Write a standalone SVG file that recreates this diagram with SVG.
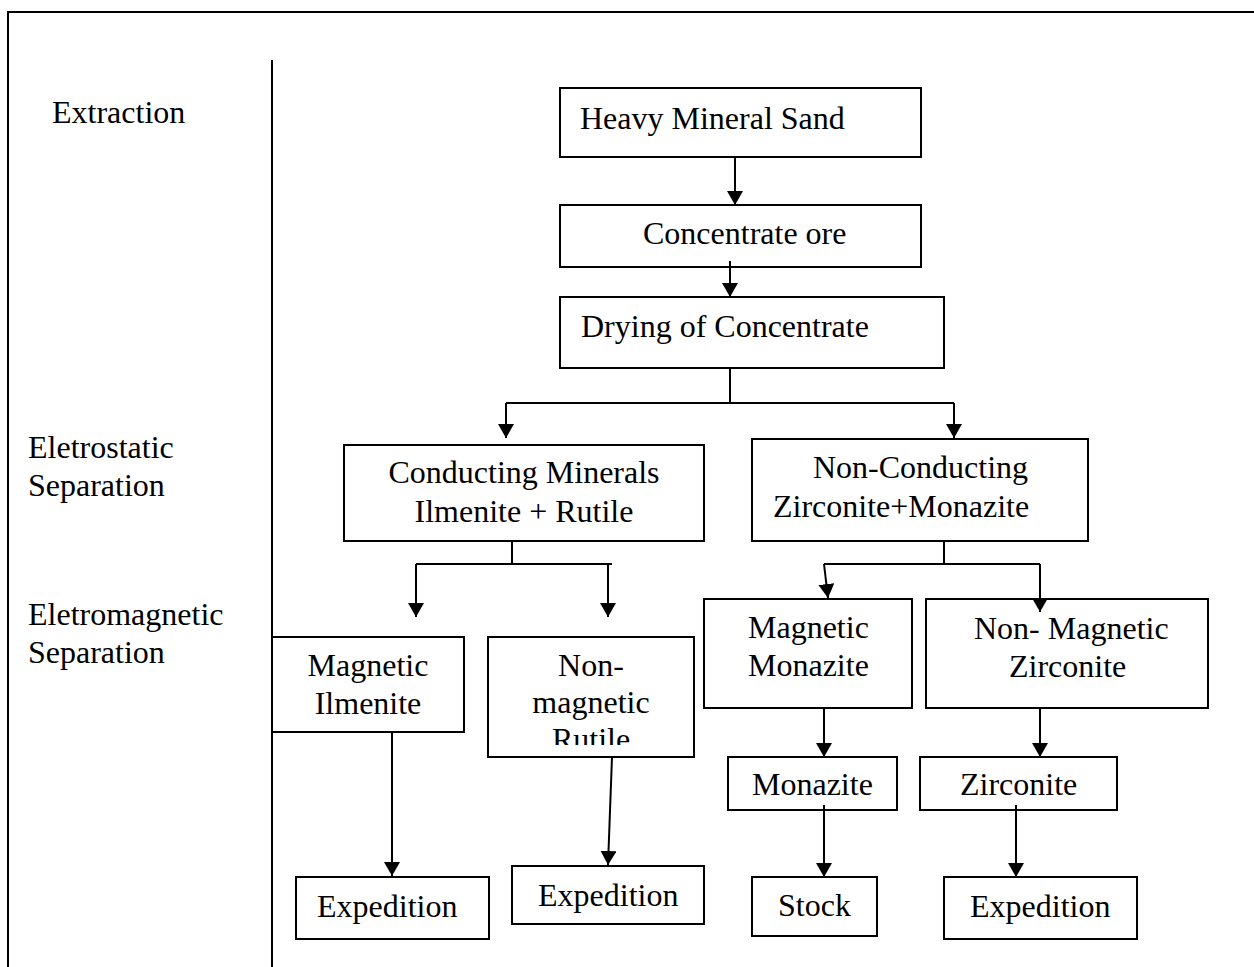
<svg xmlns="http://www.w3.org/2000/svg" width="1254" height="967" viewBox="0 0 1254 967">
<style>
.box{fill:#fff;stroke:#000;stroke-width:2}
.t{font-family:"Liberation Serif","Times New Roman",serif;font-size:32px;fill:#000}
.c{text-anchor:middle}
.ln{fill:none;stroke:#000;stroke-width:2}
</style>
<defs>
<marker id="ah" markerUnits="userSpaceOnUse" markerWidth="15" markerHeight="17" refX="14" refY="8" orient="auto">
<path d="M0,0 L14,8 L0,16 z" fill="#000"/>
</marker>
<clipPath id="clipRut"><rect x="488" y="637" width="206" height="108"/></clipPath>
</defs>
<rect width="1254" height="967" fill="#fff"/>
<g id="frame">
<path class="ln" d="M8,967 V12 H1254"/>
<path class="ln" d="M272,60 V967"/>
</g>
<g id="stages">
<text class="t" x="52" y="123">Extraction</text>
<text class="t" x="28" y="458">Eletrostatic</text>
<text class="t" x="28" y="496">Separation</text>
<text class="t" x="28" y="625">Eletromagnetic</text>
<text class="t" x="28" y="663">Separation</text>
</g>
<g id="n-hms"><rect class="box" x="560" y="88" width="361" height="69"/><text class="t" x="580" y="129">Heavy Mineral Sand</text></g>
<g id="n-co"><rect class="box" x="560" y="205" width="361" height="62"/><text class="t" x="643" y="244">Concentrate ore</text></g>
<g id="n-dry"><rect class="box" x="560" y="297" width="384" height="71"/><text class="t" x="581" y="337">Drying of Concentrate</text></g>
<g id="n-cond"><rect class="box" x="344" y="445" width="360" height="96"/><text class="t c" x="524" y="483">Conducting Minerals</text><text class="t c" x="524" y="522">Ilmenite + Rutile</text></g>
<g id="n-noncond"><rect class="box" x="752" y="439" width="336" height="102"/><text class="t" x="813" y="478">Non-Conducting</text><text class="t" x="773" y="517">Zirconite+Monazite</text></g>
<g id="n-magilm"><rect class="box" x="272" y="637" width="192" height="95"/><text class="t c" x="368" y="676">Magnetic</text><text class="t c" x="368" y="714">Ilmenite</text></g>
<g id="n-nonmagrut"><rect class="box" x="488" y="637" width="206" height="120"/><g clip-path="url(#clipRut)"><text class="t c" x="591" y="676">Non-</text><text class="t c" x="591" y="713">magnetic</text><text class="t c" x="591" y="750">Rutile</text></g></g>
<g id="n-magmon"><rect class="box" x="704" y="599" width="208" height="109"/><text class="t" x="748" y="638">Magnetic</text><text class="t" x="748" y="676">Monazite</text></g>
<g id="n-nonmagzir"><rect class="box" x="926" y="599" width="282" height="109"/><text class="t" x="974" y="639">Non- Magnetic</text><text class="t" x="1009" y="677">Zirconite</text></g>
<g id="n-monazite"><rect class="box" x="728" y="757" width="169" height="53"/><text class="t" x="752" y="795">Monazite</text></g>
<g id="n-zirconite"><rect class="box" x="920" y="757" width="197" height="53"/><text class="t" x="960" y="795">Zirconite</text></g>
<g id="n-exp1"><rect class="box" x="296" y="877" width="193" height="62"/><text class="t" x="317" y="917">Expedition</text></g>
<g id="n-exp2"><rect class="box" x="512" y="866" width="192" height="58"/><text class="t" x="538" y="906">Expedition</text></g>
<g id="n-stock"><rect class="box" x="752" y="877" width="125" height="59"/><text class="t" x="778" y="916">Stock</text></g>
<g id="n-exp4"><rect class="box" x="944" y="877" width="193" height="62"/><text class="t" x="970" y="917">Expedition</text></g>
<g id="connectors">
<path class="ln" d="M735,157 V205" marker-end="url(#ah)"/>
<path class="ln" d="M730,261 V297" marker-end="url(#ah)"/>
<path class="ln" d="M730,368 V403 M506,403 H954"/>
<path class="ln" d="M506,403 V438" marker-end="url(#ah)"/>
<path class="ln" d="M954,403 V438" marker-end="url(#ah)"/>
<path class="ln" d="M512,541 V564 M416,564 H612"/>
<path class="ln" d="M416,564 V617" marker-end="url(#ah)"/>
<path class="ln" d="M608,564 V617" marker-end="url(#ah)"/>
<path class="ln" d="M944,541 V564 M824,564 H1040"/>
<path class="ln" d="M824,564 L828,598" marker-end="url(#ah)"/>
<path class="ln" d="M1040,564 V612" marker-end="url(#ah)"/>
<path class="ln" d="M392,732 V876" marker-end="url(#ah)"/>
<path class="ln" d="M612,757 L608,865" marker-end="url(#ah)"/>
<path class="ln" d="M824,708 V757" marker-end="url(#ah)"/>
<path class="ln" d="M1040,708 V757" marker-end="url(#ah)"/>
<path class="ln" d="M824,805 V877" marker-end="url(#ah)"/>
<path class="ln" d="M1016,805 V877" marker-end="url(#ah)"/>
</g>
</svg>
